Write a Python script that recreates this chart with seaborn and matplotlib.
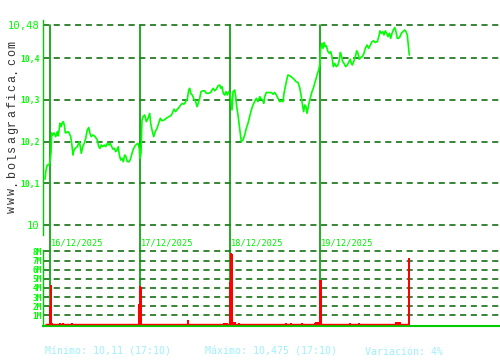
import matplotlib
matplotlib.use("Agg")
import matplotlib.pyplot as plt
import seaborn as sns
import pandas as pd

# ---------------- data ----------------
# bar index: 90 bars per session, session k starts at 90*k
price_t = [-5, -4, -2.7, -1, 0, 1, 1.7, 2.7, 4, 5.7, 7.3, 8.3, 10, 11, 12.3, 13.3, 14.3, 15.3, 16.7, 18,
           19.3, 20.7, 21.7, 23, 24, 25.3, 27.3, 29.3, 30.3, 31.3, 32.7, 34.3, 35.7, 37.3, 38.7, 40, 41.3,
           42.7, 44.3, 45.7, 47.3, 48.7, 50, 51.3, 52.7, 54.3, 55.7, 57.3, 59, 60.3, 61.7, 63, 64.3, 65.7,
           67, 68.3, 69.3, 70.7, 72, 73.3, 74.7, 76, 77.3, 79.3, 80.7, 82, 83.3, 85, 86.7, 88, 89.3, 90, 91,
           92, 93, 94.7, 96.3, 98, 99.7, 100.7, 102, 103.7, 105.3, 107, 108.7, 110.3, 112, 114, 116.3, 118.7,
           120.7, 122.3, 124, 125.7, 127.3, 129, 130.7, 132.3, 134, 135.7, 137.3, 138.7, 139.7, 140.7, 142.3,
           144, 145.7, 147, 148.3, 149.7, 151, 152.7, 154.7, 156.3, 158.7, 160.7, 162, 163.3, 164.7, 166.3,
           168, 169.7, 171, 172, 173.3, 174.7, 176, 177.3, 178.7, 180, 182,
           183, 184.7, 185.7, 186.7, 188, 189, 190, 191.3, 193, 194.7, 196.3, 198, 199.7, 201.3, 203, 204.7,
           206.3, 208, 209.7, 211.3, 212.7, 213.7, 214.7, 216.3, 218.7, 221.3, 223, 224.7, 226.3, 228, 229.7,
           231.3, 233, 234, 235.3, 236.7, 238, 240, 242, 244, 246, 248, 249.7, 251.3, 252.7, 253.7, 254.7,
           256, 257, 258, 259.3, 260.7, 262, 263.3, 264.7, 266, 267.3, 268.7, 270,
           270.3, 271, 272, 273, 274, 275.3, 276.3, 278, 279.3, 280.7, 282, 283.3, 284.7, 286.3, 288, 289.3,
           290.3, 291.3, 292.7, 294, 295.7, 297.3, 299, 300.3, 301.3, 302.3, 303.7, 305.3, 306.7, 308, 309.3,
           310.7, 312.3, 314, 315.3, 317, 318.7, 320.3, 322, 323.7, 325.3, 327.3, 329, 330, 331.3, 332.7, 334,
           335.3, 336.7, 338, 339.3, 340.7, 342, 343.3, 344.7, 346, 347.3, 348.7, 350, 351.3, 353, 354.7, 356,
           357.3, 358.3, 359.3]
price = [10.110, 10.132, 10.144, 10.144, 10.152, 10.173, 10.221, 10.216, 10.221, 10.212, 10.224, 10.214,
         10.244, 10.236, 10.246, 10.248, 10.240, 10.221, 10.222, 10.224, 10.220, 10.212, 10.196, 10.168,
         10.180, 10.184, 10.188, 10.200, 10.188, 10.172, 10.188, 10.196, 10.208, 10.228, 10.234, 10.220,
         10.212, 10.216, 10.214, 10.210, 10.204, 10.188, 10.184, 10.192, 10.188, 10.192, 10.188, 10.196,
         10.192, 10.196, 10.188, 10.182, 10.184, 10.176, 10.180, 10.188, 10.168, 10.156, 10.160, 10.152,
         10.168, 10.164, 10.152, 10.152, 10.160, 10.172, 10.182, 10.190, 10.194, 10.196, 10.184, 10.160,
         10.172,
         10.252, 10.260, 10.264, 10.248, 10.256, 10.268, 10.244, 10.228, 10.212, 10.224, 10.232, 10.244,
         10.256, 10.250, 10.252, 10.256, 10.260, 10.262, 10.268, 10.278, 10.272, 10.278, 10.282, 10.288,
         10.292, 10.290, 10.296, 10.302, 10.324, 10.328, 10.316, 10.312, 10.302, 10.296, 10.284, 10.292,
         10.304, 10.320, 10.322, 10.322, 10.316, 10.316, 10.318, 10.324, 10.328, 10.322, 10.326, 10.334,
         10.336, 10.328, 10.332, 10.316, 10.312, 10.320, 10.312, 10.320, 10.316, 10.276,
         10.320, 10.324, 10.308, 10.284, 10.264, 10.244, 10.224, 10.200, 10.204, 10.216, 10.232, 10.244,
         10.260, 10.276, 10.288, 10.296, 10.304, 10.296, 10.308, 10.302, 10.300, 10.292, 10.308, 10.318,
         10.318, 10.318, 10.314, 10.318, 10.312, 10.304, 10.296, 10.298, 10.296, 10.316, 10.332, 10.348,
         10.360, 10.358, 10.354, 10.350, 10.344, 10.342, 10.330, 10.308, 10.284, 10.272, 10.288, 10.284,
         10.268, 10.280, 10.296, 10.308, 10.320, 10.328, 10.340, 10.352, 10.362, 10.372, 10.388,
         10.412, 10.428, 10.436, 10.424, 10.438, 10.428, 10.430, 10.416, 10.412, 10.416, 10.404, 10.380,
         10.388, 10.380, 10.384, 10.396, 10.414, 10.408, 10.392, 10.388, 10.380, 10.384, 10.392, 10.398,
         10.388, 10.384, 10.392, 10.404, 10.418, 10.412, 10.398, 10.402, 10.404, 10.412, 10.424, 10.432,
         10.424, 10.432, 10.440, 10.442, 10.438, 10.440, 10.454, 10.466, 10.460, 10.464, 10.456, 10.466,
         10.460, 10.452, 10.460, 10.448, 10.460, 10.468, 10.474, 10.464, 10.448, 10.448, 10.452, 10.460,
         10.464, 10.468, 10.464, 10.456, 10.432, 10.408]

vol_t = [0, 1, 2, 10, 13, 22, 87, 89, 90, 91, 101, 124, 138, 159, 174, 175, 176, 177, 180, 181, 182,
         184, 185, 189, 211, 236, 241, 252, 265, 266, 267, 268, 269, 270, 271, 300, 309, 346, 347, 348,
         349, 350, 359]
vol_m = [2.0, 4.3, 0.2, 0.15, 0.15, 0.15, 0.1, 2.2, 4.2, 4.1, 0.1, 0.1, 0.5, 0.1, 0.2, 0.2, 0.2, 0.2,
         4.6, 7.8, 7.7, 0.25, 0.25, 0.2, 0.1, 0.15, 0.15, 0.2, 0.2, 0.25, 0.3, 0.25, 0.3, 4.9, 4.9, 0.2,
         0.15, 0.3, 0.3, 0.3, 0.3, 0.3, 7.25]
vol_floor = 0.06

session_start = [0, 90, 180, 270]
session_labels = ["16/12/2025", "17/12/2025", "18/12/2025", "19/12/2025"]
price_ticks = [10.0, 10.1, 10.2, 10.3, 10.4, 10.48]
price_tick_labels = ["10", "10,1", "10,2", "10,3", "10,4", "10,48"]
vol_ticks = [1, 2, 3, 4, 5, 6, 7, 8]
vol_tick_labels = ["1M", "2M", "3M", "4M", "5M", "6M", "7M", "8M"]
footer = ["Mínimo: 10,11 (17:10)", "Máximo: 10,475 (17:10)", "Variación: 4%"]
site = "www.bolsagrafica.com"

# ---------------- style ----------------
sns.set_style("white")
plt.rcParams["font.family"] = ["DejaVu Sans Mono"]

LIME = "#00ff00"
DAYLINE = "#009900"
GRID = "#006400"
SPINE = "#00cc00"
RED = "#ff0000"
CYAN = "#a0f0fa"

W, H = 500, 360
fig = plt.figure(figsize=(5, 3.6), dpi=100)

def fx(px):
    return px / W

def fy(py):
    return 1 - py / H

x_lo, x_hi = -7, 450

# main price panel: pixels y 20..235
ax = fig.add_axes([fx(43), fy(235), 1 - fx(43), (235 - 20) / H])
y_lo, y_hi = 9.976, 10.492
df = pd.DataFrame({"t": price_t, "p": price})
sns.lineplot(data=df, x="t", y="p", ax=ax, color=LIME, lw=1.2, zorder=5)
ax.set_xlim(x_lo, x_hi)
ax.set_ylim(y_lo, y_hi)
for v in price_ticks:
    ax.axhline(v, color=GRID, lw=1.1, ls=(0, (4, 3)), zorder=1)
top_frac = (max(price_ticks) - y_lo) / (y_hi - y_lo)
for s in session_start:
    ax.axvline(s, ymin=-15 / 215, ymax=top_frac, color=DAYLINE, lw=1.2, clip_on=False, zorder=2)
ax.set_yticks(price_ticks)
ax.set_yticklabels(price_tick_labels)
ax.tick_params(axis="y", length=0, pad=2.5, colors=LIME)
for lab, v in zip(ax.get_yticklabels(), price_ticks):
    if v in (10.0, 10.48):
        lab.set_fontsize(7.6)
    else:
        lab.set_fontsize(5.8)
        lab.set_fontweight("bold")
ax.set_xticks([])
ax.set_xlabel("")
ax.set_ylabel("")
for side in ["top", "right", "bottom"]:
    ax.spines[side].set_visible(False)
ax.spines["left"].set_color(SPINE)
ax.spines["left"].set_linewidth(1.0)
ax.patch.set_alpha(0)

# volume panel: pixels y 250..326
ax2 = fig.add_axes([fx(43), fy(326), 1 - fx(43), (326 - 250) / H])
ax2.hlines(vol_floor, price_t[0], price_t[-1], color=RED, lw=1.0, zorder=4)
for s in session_start:
    ax2.axvline(s, color=DAYLINE, lw=1.2, zorder=2)
ax2.bar(vol_t, vol_m, width=1.1, color=RED, linewidth=0, antialiased=False, zorder=5)
ax2.set_xlim(x_lo, x_hi)
ax2.set_ylim(-0.164, 8.15)
for v in vol_ticks:
    ax2.axhline(v, color=GRID, lw=1.1, ls=(0, (4, 3)), zorder=1)
ax2.set_yticks(vol_ticks)
ax2.set_yticklabels(vol_tick_labels, fontsize=5.6, fontweight="bold")
ax2.tick_params(axis="y", length=0, pad=1, colors=LIME)
ax2.set_xticks([])
ax2.set_xlabel("")
ax2.set_ylabel("")
for side in ["top", "right"]:
    ax2.spines[side].set_visible(False)
ax2.spines["left"].set_color(SPINE)
ax2.spines["left"].set_linewidth(1.0)
ax2.spines["bottom"].set_color(SPINE)
ax2.spines["bottom"].set_linewidth(1.5)
ax2.patch.set_alpha(0)

# session date labels
for s, lab in zip(session_start, session_labels):
    px = 43 + (s - x_lo) / (x_hi - x_lo) * (500 - 43)
    fig.text(fx(px + 1), fy(243), lab, color="#00ee00", fontsize=6.2,
             ha="left", va="center")

# footer
for px, txt in zip([45, 205, 365], footer):
    fig.text(fx(px), fy(352), txt, color=CYAN, fontsize=7.2, ha="left", va="center")

# site watermark, letter-spaced vertically (bottom to top)
step = (210 - 45) / (len(site) - 1)
for i, ch in enumerate(site):
    fig.text(fx(12), fy(209 - i * step), ch, rotation=90, color="#333333",
             fontsize=8.5, family="Liberation Mono", ha="center", va="center")

fig.savefig("out.png", dpi=100)
